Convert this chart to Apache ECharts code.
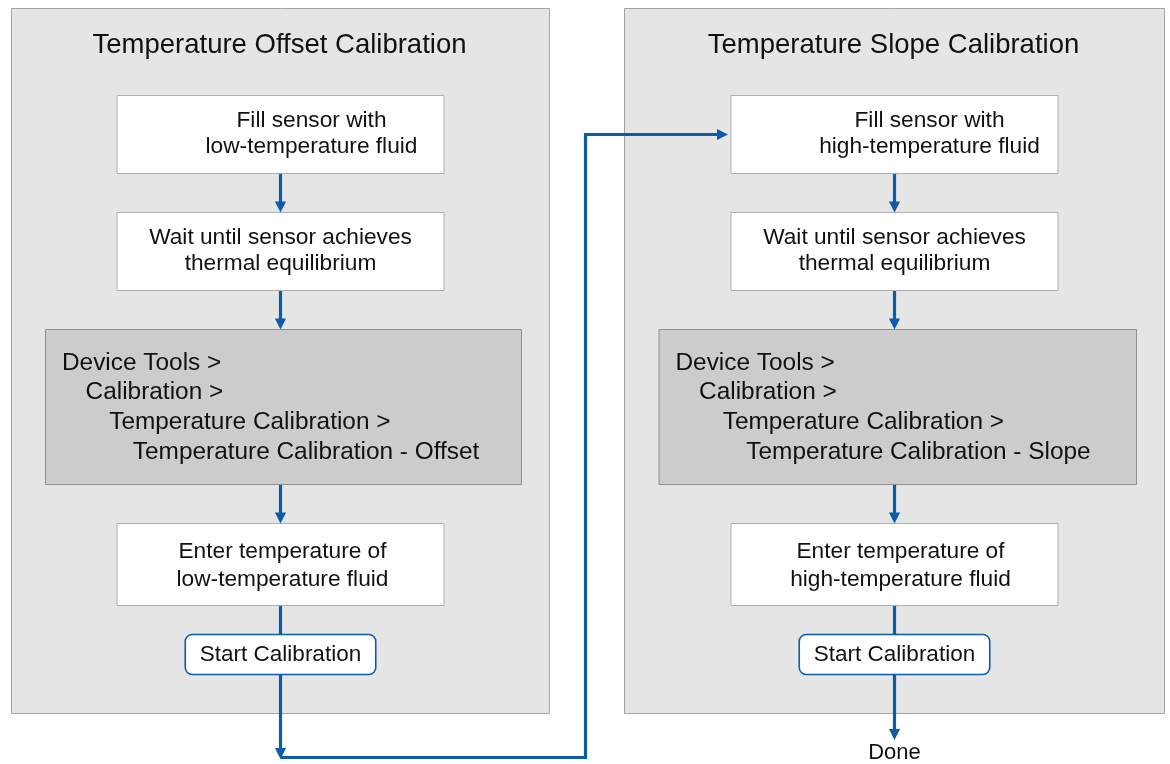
<!DOCTYPE html>
<html>
<head>
<meta charset="utf-8">
<title>Temperature calibration</title>
<script src="https://cdn.jsdelivr.net/npm/echarts@6/dist/echarts.min.js"></script>
<style>
    html, body { margin: 0; padding: 0; background: #fff; }
    #chart { width: 1170px; height: 764px; }
</style>
</head>
<body>
<div id="chart"></div>
<script>
(function () {
    'use strict';

    // texts of the flow, one entry per panel
    var panelTitles = ['Temperature Offset Calibration', 'Temperature Slope Calibration'];
    var fillSteps = [
        ['Fill sensor with', 'low-temperature fluid'],
        ['Fill sensor with', 'high-temperature fluid']
    ];
    var waitSteps = [
        ['Wait until sensor achieves', 'thermal equilibrium'],
        ['Wait until sensor achieves', 'thermal equilibrium']
    ];
    var menuPaths = [
        ['Device Tools >', 'Calibration >', 'Temperature Calibration >', 'Temperature Calibration - Offset'],
        ['Device Tools >', 'Calibration >', 'Temperature Calibration >', 'Temperature Calibration - Slope']
    ];
    var enterSteps = [
        ['Enter temperature of', 'low-temperature fluid'],
        ['Enter temperature of', 'high-temperature fluid']
    ];
    var buttonLabels = ['Start Calibration', 'Start Calibration'];
    var endLabel = 'Done';

    // layout, in axis units (= px of the 1170x764 page)
    var layout = {
        panelX: [[11.5, 549.5], [624.5, 1164.5]],
        panelY: [8.5, 713.5],
        colX: [280.5, 894.5],
        titleY: 45,
        boxW: 327,
        buttonW: 190.5,
        menuX: [[45.5, 521.5], [659, 1136.5]],
        rows: {
            fill: [95.5, 173.5],
            wait: [212.5, 290.5],
            menu: [329.5, 484.5],
            enter: [523.5, 605.5],
            button: [634.5, 674.5]
        },
        fillDx: [31, 35],
        enterDx: [2, 6],
        lineGap: 26,
        menuIndent: 23.6,
        menuLine: 29.7,
        menuFirstY: 363,
        loopY: 757.5,
        loopX: 585.5,
        doneTip: 740,
        doneY: 753
    };

    var BLUE = '#0b5dab';
    var INK = '#111111';
    var FONT = '"Liberation Sans", Arial, Helvetica, sans-serif';
    var order = ['fill', 'wait', 'menu', 'enter', 'button'];

    // one node per step
    var nodes = [];
    [0, 1].forEach(function (p) {
        nodes.push({ panel: p, kind: 'fill', lines: fillSteps[p] });
        nodes.push({ panel: p, kind: 'wait', lines: waitSteps[p] });
        nodes.push({ panel: p, kind: 'menu', lines: menuPaths[p] });
        nodes.push({ panel: p, kind: 'enter', lines: enterSteps[p] });
        nodes.push({ panel: p, kind: 'button', lines: [buttonLabels[p]] });
    });

    // connectors, built from the layout
    var links = [];
    [0, 1].forEach(function (p) {
        var cx = layout.colX[p];
        for (var k = 0; k < order.length - 1; k++) {
            links.push({
                pts: [[cx, layout.rows[order[k]][1]], [cx, layout.rows[order[k + 1]][0]]],
                head: order[k + 1] !== 'button'
            });
        }
    });
    var btnBottom = layout.rows.button[1];
    var fillMid = (layout.rows.fill[0] + layout.rows.fill[1]) / 2;
    links.push({ pts: [[layout.colX[0], btnBottom], [layout.colX[0], layout.loopY + 1.5]], head: true });
    links.push({
        pts: [[layout.colX[0], layout.loopY], [layout.loopX, layout.loopY], [layout.loopX, fillMid],
            [layout.colX[1] - layout.boxW / 2 - 3, fillMid]],
        head: true
    });
    links.push({ pts: [[layout.colX[1], btnBottom], [layout.colX[1], layout.doneTip]], head: true });

    function rectOf(api, x0, y0, x1, y1) {
        var a = api.coord([x0, y0]);
        var b = api.coord([x1, y1]);
        return { x: a[0], y: a[1], width: b[0] - a[0], height: b[1] - a[1] };
    }

    function textEl(api, str, x, y, size, align) {
        var c = api.coord([x, y]);
        return {
            type: 'text',
            style: {
                text: str, x: c[0], y: c[1], fill: INK,
                fontSize: size, fontFamily: FONT,
                align: align || 'center', verticalAlign: 'middle'
            }
        };
    }

    function renderPanel(params, api) {
        var p = params.dataIndex;
        var px = layout.panelX[p];
        return {
            type: 'group',
            children: [
                {
                    type: 'rect',
                    shape: rectOf(api, px[0], layout.panelY[0], px[1], layout.panelY[1]),
                    style: { fill: '#e5e5e5', stroke: '#a3a3a3', lineWidth: 1 }
                },
                textEl(api, panelTitles[p], (px[0] + px[1]) / 2 - 1, layout.titleY, 27.5)
            ]
        };
    }

    function renderNode(params, api) {
        var n = nodes[params.dataIndex];
        var p = n.panel;
        var cx = layout.colX[p];
        var row = layout.rows[n.kind];
        var kids = [];
        var mid = (row[0] + row[1]) / 2;
        if (n.kind === 'menu') {
            var mx = layout.menuX[p];
            kids.push({
                type: 'rect',
                shape: rectOf(api, mx[0], row[0], mx[1], row[1]),
                style: { fill: '#cccccc', stroke: '#8f8f8f', lineWidth: 1 }
            });
            n.lines.forEach(function (s, i) {
                kids.push(textEl(api, s, mx[0] + 16.5 + i * layout.menuIndent,
                    layout.menuFirstY + i * layout.menuLine, 24.4, 'left'));
            });
        } else if (n.kind === 'button') {
            var r = rectOf(api, cx - layout.buttonW / 2, row[0], cx + layout.buttonW / 2, row[1]);
            r.r = 7;
            kids.push({
                type: 'rect', shape: r,
                style: { fill: '#ffffff', stroke: BLUE, lineWidth: 1.6 }
            });
            kids.push(textEl(api, n.lines[0], cx, mid, 22.5));
        } else {
            kids.push({
                type: 'rect',
                shape: rectOf(api, cx - layout.boxW / 2, row[0], cx + layout.boxW / 2, row[1]),
                style: { fill: '#ffffff', stroke: '#b0b0b0', lineWidth: 1 }
            });
            var dx = n.kind === 'fill' ? layout.fillDx[p] : (n.kind === 'enter' ? layout.enterDx[p] : 0);
            var y0 = mid - layout.lineGap / 2 + (n.kind === 'enter' ? 0 : -0.5);
            n.lines.forEach(function (s, i) {
                kids.push(textEl(api, s, cx + dx, y0 + i * (layout.lineGap + (n.kind === 'enter' ? 2 : 0)), 22.7));
            });
        }
        return { type: 'group', children: kids };
    }

    function renderLink(params, api) {
        var l = links[params.dataIndex];
        var pts = l.pts.map(function (q) { return api.coord(q); });
        var kids = [{
            type: 'polyline',
            shape: { points: pts.slice() },
            style: { stroke: BLUE, lineWidth: 3.2, fill: null, lineJoin: 'miter' }
        }];
        if (l.head) {
            var a = pts[pts.length - 2], b = pts[pts.length - 1];
            var ang = Math.atan2(b[1] - a[1], b[0] - a[0]);
            var len = 11, hw = 5.6;
            var bx = b[0] - Math.cos(ang) * len, by = b[1] - Math.sin(ang) * len;
            // shorten the stroke so it does not poke through the tip
            kids[0].shape.points[pts.length - 1] = [bx + Math.cos(ang) * 2, by + Math.sin(ang) * 2];
            kids.push({
                type: 'polygon',
                shape: {
                    points: [
                        [b[0], b[1]],
                        [bx - Math.sin(ang) * hw, by + Math.cos(ang) * hw],
                        [bx + Math.sin(ang) * hw, by - Math.cos(ang) * hw]
                    ]
                },
                style: { fill: BLUE }
            });
        }
        return { type: 'group', children: kids };
    }

    var chart = echarts.init(document.getElementById('chart'), null, { renderer: 'canvas' });
    chart.setOption({
        animation: false,
        backgroundColor: '#ffffff',
        grid: { left: 0, right: 0, top: 0, bottom: 0 },
        xAxis: { type: 'value', min: 0, max: 1170, show: false },
        yAxis: { type: 'value', min: 0, max: 764, inverse: true, show: false },
        series: [
            {
                type: 'custom', name: 'panels', z: 1,
                data: panelTitles.map(function (t, i) { return [i]; }),
                renderItem: renderPanel, silent: true
            },
            {
                type: 'custom', name: 'links', z: 2,
                data: links.map(function (l, i) { return [i]; }),
                renderItem: renderLink, silent: true
            },
            {
                type: 'custom', name: 'steps', z: 3,
                data: nodes.map(function (n, i) { return [i]; }),
                renderItem: renderNode, silent: true
            },
            {
                // end label below the last arrow
                type: 'custom', name: 'end', z: 3,
                data: [[0]],
                renderItem: function (params, api) {
                    return textEl(api, endLabel, layout.colX[1], layout.doneY, 22);
                },
                silent: true
            }
        ]
    });
})();
</script>
</body>
</html>
